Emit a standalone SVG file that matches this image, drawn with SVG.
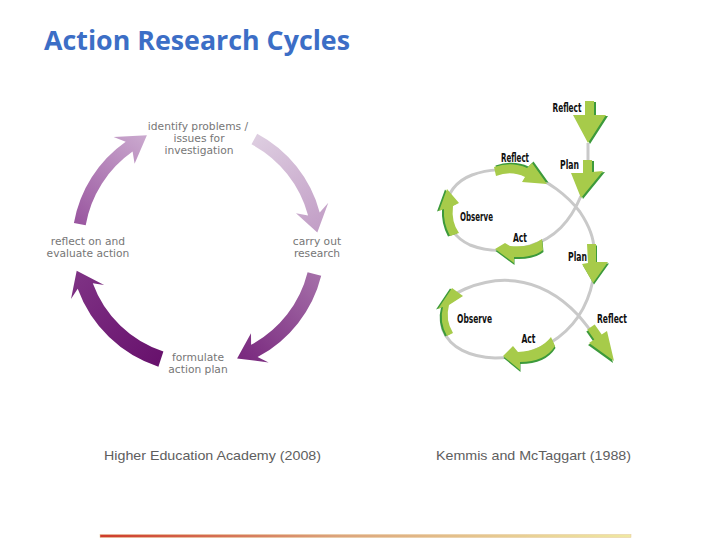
<svg xmlns="http://www.w3.org/2000/svg" width="728" height="546" viewBox="0 0 728 546">
<style>
.lbl{font-family:"DejaVu Sans","Noto Sans",sans-serif;font-size:10.7px;fill:#767676;text-anchor:middle}
.cap{font-family:"Liberation Sans",Arial,sans-serif;font-size:13px;fill:#5e5e5e}
.sl{font-family:"DejaVu Sans Condensed","DejaVu Sans",sans-serif;font-weight:bold;font-size:12px;fill:#111;text-anchor:middle}
.gr{fill:none;stroke:#c9c9c9;stroke-width:3}
.ga{fill:#a7cb4a}
.gs{fill:#3c9a3b}
</style>
<defs>
<linearGradient id="gA" gradientUnits="userSpaceOnUse" x1="254" y1="139" x2="317" y2="232"><stop offset="0" stop-color="#ddcde0"/><stop offset="1" stop-color="#c29ec6"/></linearGradient>
<linearGradient id="gB" gradientUnits="userSpaceOnUse" x1="315" y1="274" x2="237" y2="360"><stop offset="0" stop-color="#a46ea8"/><stop offset="1" stop-color="#78277d"/></linearGradient>
<linearGradient id="gC" gradientUnits="userSpaceOnUse" x1="160" y1="360" x2="76" y2="271"><stop offset="0" stop-color="#68126d"/><stop offset="1" stop-color="#7f3385"/></linearGradient>
<linearGradient id="gD" gradientUnits="userSpaceOnUse" x1="80" y1="224" x2="147" y2="135"><stop offset="0" stop-color="#9a57a0"/><stop offset="1" stop-color="#cbaacf"/></linearGradient>
<linearGradient id="bar" x1="0" y1="0" x2="1" y2="0"><stop offset="0" stop-color="#cf3b2b"/><stop offset="0.45" stop-color="#dca47c"/><stop offset="1" stop-color="#efe9a2"/></linearGradient>
</defs>
<rect width="728" height="546" fill="#ffffff"/>
<text x="44" y="50" font-family="'Open Sans','Noto Sans',sans-serif" font-weight="bold" font-size="26" fill="#3c6ec6" textLength="306" lengthAdjust="spacingAndGlyphs">Action Research Cycles</text>

<!-- Left cycle -->
<g id="cycle-connectors">
<path d="M 257.2,133.8 A 126 126 0 0 1 319.7,212.4 L 328.3,202.7 L 317.3,232.5 L 296.0,213.2 L 308.1,215.5 A 114 114 0 0 0 251.5,144.3 Z" fill="url(#gA)"/>
<path d="M 321.2,275.7 A 127 127 0 0 1 257.6,357.1 L 268.6,362.4 L 237.1,358.5 L 251.0,333.3 L 251.1,344.8 A 113 113 0 0 0 307.6,272.3 Z" fill="url(#gB)"/>
<path d="M 158.4,366.7 A 128 128 0 0 1 77.7,288.8 L 71.0,298.9 L 76.7,270.8 L 104.1,284.9 L 92.8,283.3 A 112 112 0 0 0 163.4,351.5 Z" fill="url(#gC)"/>
<path d="M 73.9,223.1 A 126 126 0 0 1 125.7,141.8 L 113.6,137.0 L 146.9,135.3 L 134.6,163.8 L 132.6,151.6 A 114 114 0 0 0 85.7,225.2 Z" fill="url(#gD)"/>
</g>
<g id="identify"><text class="lbl" x="198" y="130">identify problems /</text><text class="lbl" x="199" y="142">issues for</text><text class="lbl" x="199" y="154">investigation</text></g>
<g id="carry-out"><text class="lbl" x="317" y="245">carry out</text><text class="lbl" x="317" y="257">research</text></g>
<g id="formulate"><text class="lbl" x="198" y="361">formulate</text><text class="lbl" x="198" y="373">action plan</text></g>
<g id="reflect-evaluate"><text class="lbl" x="88" y="245">reflect on and</text><text class="lbl" x="88" y="257">evaluate action</text></g>

<!-- Spiral -->
<g id="spiral-lines">
<path class="gr" d="M 588,143 L 588,163"/>
<path class="gr" d="M 581,196 C 570,222 555,238 530,246 C 510,252 488,252 470,245 C 455,238 446,225 446,210 C 446,194 456,181 472,175 C 488,169 508,168 525,173 C 548,180 568,196 580,212 C 590,227 594,240 594,250"/>
<path class="gr" d="M 593,280 C 588,305 575,328 550,343 C 532,353 515,358 495,358 C 470,357 450,348 443,330 C 437,312 448,296 465,289 C 482,282 500,279 515,281 C 540,284 562,298 578,315 C 584,322 589,328 592,333"/>
</g>
<g id="s-reflect-top">
<path class="gs" transform="translate(2,1)" d="M 585,101 L 594,101 L 594,115 L 606,115 L 588,143 L 573,115 L 585,115 Z"/>
<path class="ga" d="M 585,101 L 594,101 L 594,115 L 606,115 L 588,143 L 573,115 L 585,115 Z"/>
<text class="sl" x="567" y="112" textLength="29" lengthAdjust="spacingAndGlyphs">Reflect</text>
</g>
<g id="s-plan-1">
<path class="gs" transform="translate(2,1)" d="M 583,160 L 592,160 L 592,172 L 603,171 L 581,198 L 571,173 L 583,173 Z"/>
<path class="ga" d="M 583,160 L 592,160 L 592,172 L 603,171 L 581,198 L 571,173 L 583,173 Z"/>
<text class="sl" x="569.5" y="169" textLength="19" lengthAdjust="spacingAndGlyphs">Plan</text>
</g>
<g id="s-act-1">
<path class="gs" transform="translate(0.5,2)" d="M 542,239 Q 530,248 510,246 L 505,243 L 495,249 L 514,263 L 514,257 Q 533,258 543,250 Z"/>
<path class="ga" d="M 542,239 Q 530,248 510,246 L 505,243 L 495,249 L 514,263 L 514,257 Q 533,258 543,250 Z"/>
<text class="sl" x="520" y="242" textLength="14" lengthAdjust="spacingAndGlyphs">Act</text>
</g>
<g id="s-observe-1">
<path class="gs" transform="translate(-2,0.5)" d="M 459,233 Q 451,222 453,206 L 459,203 L 447,189 L 439,211 L 444,209 Q 443,223 450,236 Z"/>
<path class="ga" d="M 459,233 Q 451,222 453,206 L 459,203 L 447,189 L 439,211 L 444,209 Q 443,223 450,236 Z"/>
<text class="sl" x="476.5" y="221" textLength="33" lengthAdjust="spacingAndGlyphs">Observe</text>
</g>
<g id="s-reflect-1">
<path class="gs" transform="translate(1.5,-1.5)" d="M 494,167 Q 512,161 527,168 L 532,163 L 547,184 L 522,182 L 525,177 Q 511,170 496,176 Z"/>
<path class="ga" d="M 494,167 Q 512,161 527,168 L 532,163 L 547,184 L 522,182 L 525,177 Q 511,170 496,176 Z"/>
<text class="sl" x="515" y="162" textLength="28" lengthAdjust="spacingAndGlyphs">Reflect</text>
</g>
<g id="s-plan-2">
<path class="gs" transform="translate(1,1.5)" d="M 587,244 L 596,244 L 596,262 L 608,262 L 593,283 L 582,264 L 588,263 Z"/>
<path class="ga" d="M 587,244 L 596,244 L 596,262 L 608,262 L 593,283 L 582,264 L 588,263 Z"/>
<text class="sl" x="577.5" y="261" textLength="19" lengthAdjust="spacingAndGlyphs">Plan</text>
</g>
<g id="s-act-2">
<path class="gs" transform="translate(0.5,2)" d="M 551,337 Q 540,351 518,352 L 513,346 L 503,356 L 520,370 L 520,362 Q 545,362 555,346 Z"/>
<path class="ga" d="M 551,337 Q 540,351 518,352 L 513,346 L 503,356 L 520,370 L 520,362 Q 545,362 555,346 Z"/>
<text class="sl" x="528.5" y="343" textLength="14" lengthAdjust="spacingAndGlyphs">Act</text>
</g>
<g id="s-observe-2">
<path class="gs" transform="translate(-2,0.5)" d="M 453,333 Q 445,320 449,305 L 463,296 L 452,288 L 438,309 L 443,307 Q 439,322 447,336 Z"/>
<path class="ga" d="M 453,333 Q 445,320 449,305 L 463,296 L 452,288 L 438,309 L 443,307 Q 439,322 447,336 Z"/>
<text class="sl" x="474.5" y="323" textLength="35" lengthAdjust="spacingAndGlyphs">Observe</text>
</g>
<g id="s-reflect-2">
<path class="gs" transform="translate(-1,2)" d="M 594.7,324.5 L 601.7,334.5 L 607,331 L 614,361 L 589,343 L 594.3,339.5 L 587.3,329.5 Z"/>
<path class="ga" d="M 594.7,324.5 L 601.7,334.5 L 607,331 L 614,361 L 589,343 L 594.3,339.5 L 587.3,329.5 Z"/>
<text class="sl" x="612" y="323" textLength="30" lengthAdjust="spacingAndGlyphs">Reflect</text>
</g>

<text class="cap" x="104" y="460" textLength="217" lengthAdjust="spacingAndGlyphs">Higher Education Academy (2008)</text>
<text class="cap" x="436" y="460" textLength="195" lengthAdjust="spacingAndGlyphs">Kemmis and McTaggart (1988)</text>
<rect x="100" y="534.5" width="531" height="3" fill="url(#bar)" stroke="#e6c79a" stroke-width="0.5"/>
</svg>
